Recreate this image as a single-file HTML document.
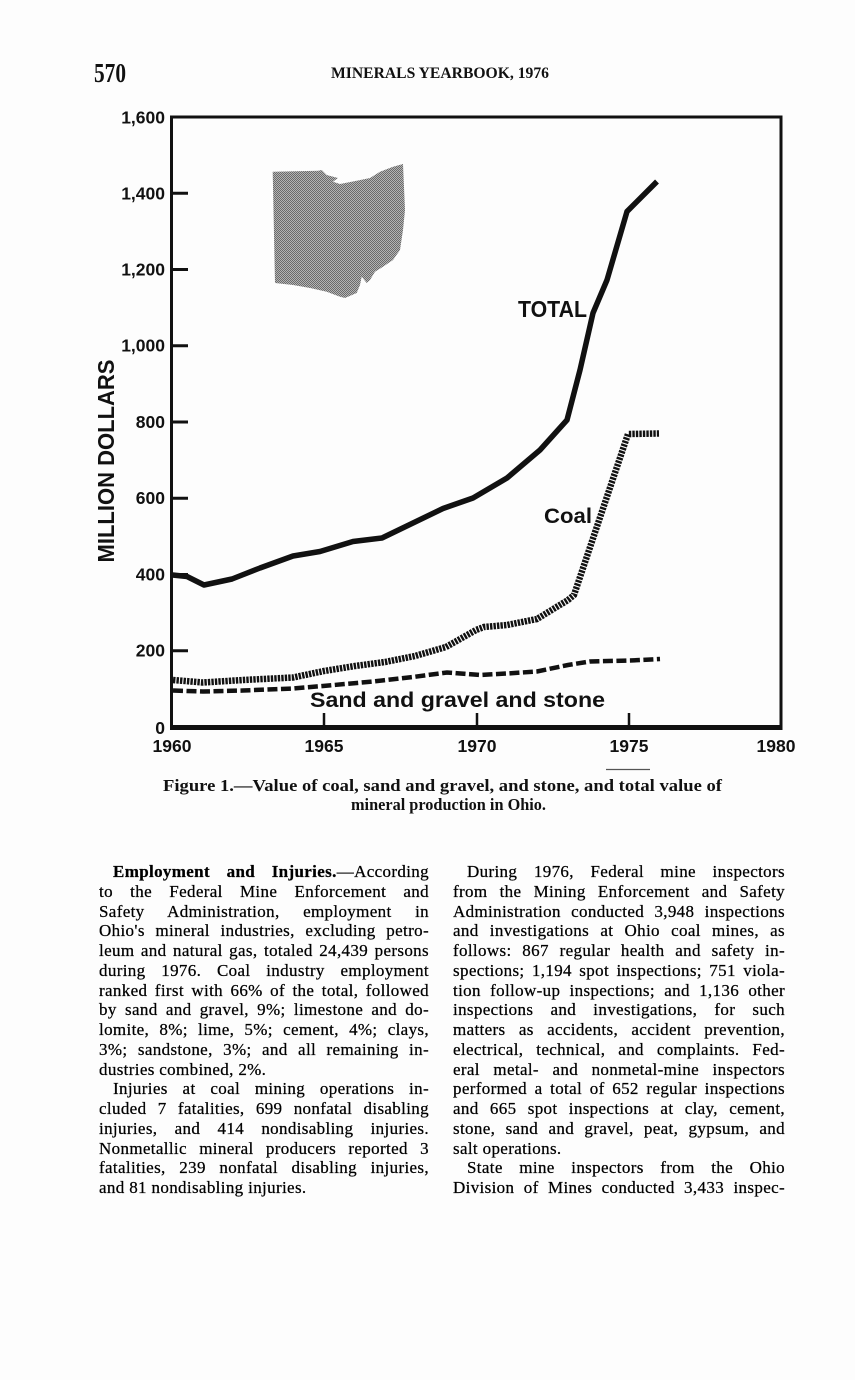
<!DOCTYPE html>
<html>
<head>
<meta charset="utf-8">
<style>
  html, body { margin:0; padding:0; }
  body { width:855px; height:1380px; position:relative; overflow:hidden; background:#fdfdfd; }
  svg { position:absolute; left:0; top:0; }
  .col { position:absolute; top:862px; font-family:"Liberation Serif", serif; font-size:17px; line-height:19.75px; color:#000; letter-spacing:0.35px; -webkit-text-stroke:0.25px #000; }
  .col div { white-space:nowrap; text-align:justify; text-align-last:justify; }
  .col div.last { text-align:left; text-align-last:left; }
  .col div.ind { padding-left:14px; }
  .left { left:99px; width:330px; }
  .right { left:453px; width:332px; }
</style>
</head>
<body>
<svg width="855" height="1380" viewBox="0 0 855 1380" xmlns="http://www.w3.org/2000/svg">
  <defs>
    <pattern id="ht" width="2" height="2" patternUnits="userSpaceOnUse">
      <rect width="2" height="2" fill="#b4b4b4"/>
      <rect width="1" height="1" fill="#6a6a6a"/>
      <rect x="1" y="1" width="1" height="1" fill="#6a6a6a"/>
    </pattern>
  </defs>
  <!-- Header -->
  <text x="94" y="82" font-family="Liberation Serif, serif" font-weight="bold" font-size="27" textLength="32" lengthAdjust="spacingAndGlyphs" fill="#111">570</text>
  <text x="331" y="78" font-family="Liberation Serif, serif" font-weight="bold" font-size="16" textLength="218" lengthAdjust="spacingAndGlyphs" fill="#111">MINERALS YEARBOOK, 1976</text>

  <!-- Ohio map -->
  <polygon points="272.7,171.7 318,170.7 321.7,170 326.7,175 338,178 333,181.7 340,184 356.7,180.7 370,178 380,171.7 393,166.7 403,164 405,210 403,230 400,250 393,260 383,266.7 375,271.7 370,280 366.7,283 361.7,276.7 360,285 356.7,293 345,298 340,296.7 326.7,291.7 310,288 293,285 275,283" fill="url(#ht)"/>

  <!-- Frame -->
  <line x1="170" y1="117" x2="782.5" y2="117" stroke="#111" stroke-width="3"/>
  <line x1="171.5" y1="116" x2="171.5" y2="729" stroke="#111" stroke-width="3"/>
  <line x1="781" y1="116" x2="781" y2="729" stroke="#111" stroke-width="3"/>
  <line x1="170" y1="727.5" x2="782.5" y2="727.5" stroke="#111" stroke-width="5"/>

  <!-- Y ticks -->
  <g stroke="#111" stroke-width="3">
    <line x1="172" y1="193.25" x2="188" y2="193.25"/>
    <line x1="172" y1="269.5" x2="188" y2="269.5"/>
    <line x1="172" y1="345.75" x2="188" y2="345.75"/>
    <line x1="172" y1="422" x2="188" y2="422"/>
    <line x1="172" y1="498.25" x2="188" y2="498.25"/>
    <line x1="172" y1="574.5" x2="188" y2="574.5"/>
    <line x1="172" y1="650.75" x2="188" y2="650.75"/>
  </g>
  <!-- X ticks -->
  <g stroke="#111" stroke-width="2.5">
    <line x1="324" y1="713" x2="324" y2="727"/>
    <line x1="477" y1="713" x2="477" y2="727"/>
    <line x1="629" y1="713" x2="629" y2="727"/>
  </g>

  <!-- Y labels -->
  <g font-family="Liberation Sans, sans-serif" font-weight="bold" font-size="17.5" text-anchor="end" fill="#111">
    <text x="165" y="123.5">1,600</text>
    <text x="165" y="199.5">1,400</text>
    <text x="165" y="275.5">1,200</text>
    <text x="165" y="351.5">1,000</text>
    <text x="165" y="428">800</text>
    <text x="165" y="504">600</text>
    <text x="165" y="580.5">400</text>
    <text x="165" y="656.5">200</text>
    <text x="165" y="734">0</text>
  </g>
  <!-- X labels -->
  <g font-family="Liberation Sans, sans-serif" font-weight="bold" font-size="17.5" text-anchor="middle" fill="#111">
    <text x="172" y="752">1960</text>
    <text x="324" y="752">1965</text>
    <text x="477" y="752">1970</text>
    <text x="629" y="752">1975</text>
    <text x="776" y="752">1980</text>
  </g>

  <!-- Y axis title -->
  <text transform="translate(114,461) rotate(-90)" text-anchor="middle" font-family="Liberation Sans, sans-serif" font-weight="bold" font-size="23" textLength="203" lengthAdjust="spacingAndGlyphs" fill="#111">MILLION DOLLARS</text>

  <!-- Series: Total -->
  <path d="M172.5,575 L187,576.5 L204,585 L232,579 L260,568 L293,556 L320,551.5 L353,541.5 L382,538 L413,523 L443,508.5 L473,498 L507,478 L540,450 L567,420 L580,370 L593,313 L607,280 L627,211.5 L657,181.5" fill="none" stroke="#111" stroke-width="5.5" stroke-linejoin="round"/>
  <!-- Series: Coal -->
  <path d="M173,680 L203,682.5 L243,680 L293,677.5 L324,671 L355,666 L385,662 L415,656 L446,647 L476,630 L484,627 L507,625 L537,619 L568,600 L574,595 L628,434 L659,433.5" fill="none" stroke="#111" stroke-width="6.5" stroke-dasharray="2.4 1.1"/>
  <!-- Series: Sand and gravel and stone -->
  <path d="M173,690.5 L203,691.5 L243,690.5 L293,688.5 L323,686 L373,681.5 L413,677 L447,672.5 L480,675 L507,673.5 L537,671.5 L568,665 L590,661.5 L630,660.5 L660,659" fill="none" stroke="#111" stroke-width="4.5" stroke-dasharray="10 3.5"/>

  <!-- Series labels -->
  <g font-family="Liberation Sans, sans-serif" font-weight="bold" fill="#111">
    <text x="518" y="317" font-size="23" textLength="69" lengthAdjust="spacingAndGlyphs">TOTAL</text>
    <text x="544" y="523" font-size="21" textLength="48" lengthAdjust="spacingAndGlyphs">Coal</text>
    <text x="310" y="707" font-size="21" textLength="295" lengthAdjust="spacingAndGlyphs">Sand and gravel and stone</text>
  </g>

  <!-- scan artifact above caption -->
  <line x1="606" y1="769.5" x2="650" y2="769.5" stroke="#555" stroke-width="1.3"/>

  <!-- Caption -->
  <g font-family="Liberation Serif, serif" font-weight="bold" font-size="17" fill="#111">
    <text x="163" y="791" textLength="559" lengthAdjust="spacingAndGlyphs">Figure 1.—Value of coal, sand and gravel, and stone, and total value of</text>
    <text x="351" y="810" textLength="195" lengthAdjust="spacingAndGlyphs">mineral production in Ohio.</text>
  </g>
</svg>

<div class="col left">
  <div class="ind"><b>Employment and Injuries.</b>—According</div>
  <div>to the Federal Mine Enforcement and</div>
  <div>Safety Administration, employment in</div>
  <div>Ohio's mineral industries, excluding petro-</div>
  <div>leum and natural gas, totaled 24,439 persons</div>
  <div>during 1976. Coal industry employment</div>
  <div>ranked first with 66% of the total, followed</div>
  <div>by sand and gravel, 9%; limestone and do-</div>
  <div>lomite, 8%; lime, 5%; cement, 4%; clays,</div>
  <div>3%; sandstone, 3%; and all remaining in-</div>
  <div class="last">dustries combined, 2%.</div>
  <div class="ind">Injuries at coal mining operations in-</div>
  <div>cluded 7 fatalities, 699 nonfatal disabling</div>
  <div>injuries, and 414 nondisabling injuries.</div>
  <div>Nonmetallic mineral producers reported 3</div>
  <div>fatalities, 239 nonfatal disabling injuries,</div>
  <div class="last">and 81 nondisabling injuries.</div>
</div>

<div class="col right">
  <div class="ind">During 1976, Federal mine inspectors</div>
  <div>from the Mining Enforcement and Safety</div>
  <div>Administration conducted 3,948 inspections</div>
  <div>and investigations at Ohio coal mines, as</div>
  <div>follows: 867 regular health and safety in-</div>
  <div>spections; 1,194 spot inspections; 751 viola-</div>
  <div>tion follow-up inspections; and 1,136 other</div>
  <div>inspections and investigations, for such</div>
  <div>matters as accidents, accident prevention,</div>
  <div>electrical, technical, and complaints. Fed-</div>
  <div>eral metal- and nonmetal-mine inspectors</div>
  <div>performed a total of 652 regular inspections</div>
  <div>and 665 spot inspections at clay, cement,</div>
  <div>stone, sand and gravel, peat, gypsum, and</div>
  <div class="last">salt operations.</div>
  <div class="ind">State mine inspectors from the Ohio</div>
  <div>Division of Mines conducted 3,433 inspec-</div>
</div>
</body>
</html>
